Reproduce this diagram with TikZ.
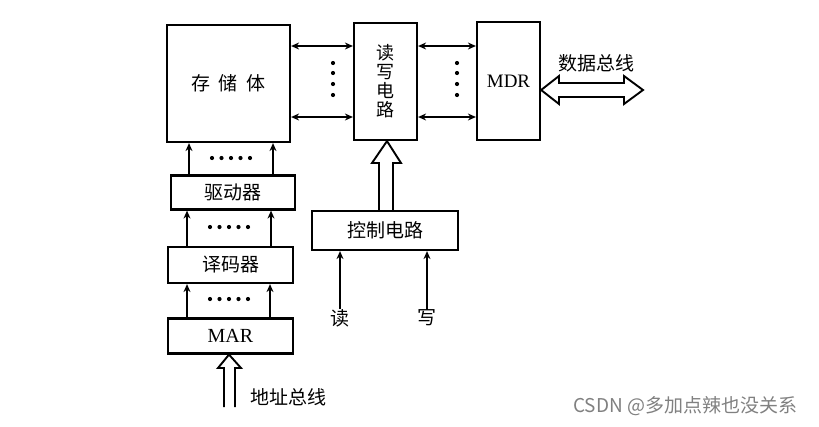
\documentclass[tikz,border=0pt]{standalone}
\usepackage{fontspec}
\setmainfont{Liberation Serif}
\newfontfamily\cjk{Noto Sans CJK SC}
\usetikzlibrary{arrows.meta,calc}
\tikzset{
  box/.style={draw, line width=2.2pt, inner sep=0pt, font=\cjk\fontsize{19}{22}\selectfont},
  lnk/.style={line width=1.6pt, -{Stealth[length=8pt,width=7pt]}},
  blnk/.style={line width=1.6pt, {Stealth[length=8pt,width=7pt]}-{Stealth[length=8pt,width=7pt]}},
  hollow/.style={line width=1.9pt, line join=miter},
  dot/.style={fill, circle, inner sep=0pt, minimum size=4.2pt},
  lbl/.style={font=\cjk\fontsize{19}{22}\selectfont, inner sep=0pt}
}
\begin{document}
\begin{tikzpicture}[x=1pt,y=-1pt]
\useasboundingbox (0,0) rectangle (819,426);
% boxes
\node[box, minimum width=123pt, minimum height=117pt] (mem) at (228.5,83.5) {存\hspace{0.45em}储\hspace{0.45em}体};
\node[box, minimum width=63pt, minimum height=117pt, align=center, font=\cjk\fontsize{18}{19}\selectfont] (rw) at (385.5,81.5) {读\\写\\电\\路};
\node[box, minimum width=63pt, minimum height=118pt, font=\fontsize{19}{22}\selectfont] (mdr) at (508.5,81) {MDR};
\node[box, minimum width=124pt, minimum height=34pt] (drv) at (233,192.5) {驱动器};
\node[box, minimum width=125pt, minimum height=36pt] (dec) at (230.5,265) {译码器};
\node[box, minimum width=125pt, minimum height=35pt, font=\fontsize{20}{22}\selectfont] (mar) at (230.5,336) {MAR};
\node[box, minimum width=146pt, minimum height=39pt] (ctl) at (385,230.5) {控制电路};
% mem <-> rw <-> mdr
\draw[blnk] (mem.east |- 0,46) -- (rw.west |- 0,46);
\draw[blnk] (mem.east |- 0,117) -- (rw.west |- 0,117);
\draw[blnk] (rw.east |- 0,46) -- (mdr.west |- 0,46);
\draw[blnk] (rw.east |- 0,117) -- (mdr.west |- 0,117);
\foreach \y in {63,73,84,95} {
  \node[dot] (dl\y) at (333,\y) {};
  \node[dot] (dr\y) at (457,\y) {};
}
% left column arrows
\draw[lnk] (189,0 |- drv.north) -- (189,0 |- mem.south);
\draw[lnk] (273,0 |- drv.north) -- (273,0 |- mem.south);
\draw[lnk] (187,0 |- dec.north) -- (187,0 |- drv.south);
\draw[lnk] (271,0 |- dec.north) -- (271,0 |- drv.south);
\draw[lnk] (187,0 |- mar.north) -- (187,0 |- dec.south);
\draw[lnk] (270,0 |- mar.north) -- (270,0 |- dec.south);
\foreach \x in {212,221.5,231,240.5,250} {
  \node[dot] at (\x,158) {};
  \node[dot] at (\x-2,227) {};
  \node[dot] at (\x-2,299) {};
}
% address bus
\draw[hollow] (224,407) -- (224,368) -- (218,368) -- (229,0 |- mar.south) -- (241,368) -- (235,368) -- (235,407);
\node[lbl, anchor=west] (alab) at (250,397) {地址总线};
% control arrow
\draw[hollow] (379,0 |- ctl.north) -- (379,163) -- (372,163) -- (387,0 |- rw.south) -- (401,163) -- (393,163) -- (393,0 |- ctl.north);
% read / write inputs
\node[lbl] (rd) at (340,318) {读};
\node[lbl] (wr) at (427,318) {写};
\draw[lnk] (rd.north) -- (rd.north |- ctl.south);
\draw[lnk] (wr.north) -- (wr.north |- ctl.south);
% data bus
\draw[hollow] (mdr.east |- 0,90) -- (559,76) -- (559,83) -- (624,83) -- (624,76) -- (643,90) -- (624,104) -- (624,97) -- (559,97) -- (559,104) -- cycle;
\node[lbl] (dlab) at (596,63) {数据总线};
% watermark
\node[anchor=west, text=black!50, font=\cjk\fontsize{19}{22}\selectfont, inner sep=0pt] (wm) at (573,406) {CSDN @多加点辣也没关系};
\end{tikzpicture}
\end{document}
